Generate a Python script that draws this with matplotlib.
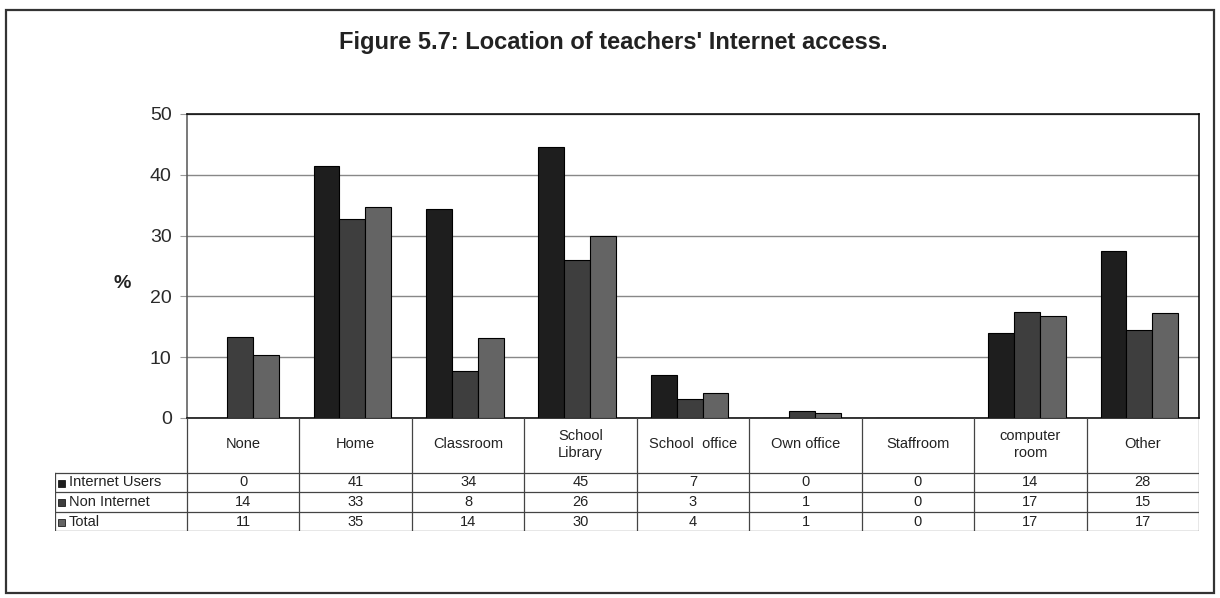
import numpy as np
import matplotlib.pyplot as plt
from matplotlib.patches import Rectangle

plt.rcParams['font.family'] = ['Liberation Sans', 'DejaVu Sans']

# data
categories = ['None', 'Home', 'Classroom', 'School\nLibrary', 'School  office',
              'Own office', 'Staffroom', 'computer\nroom', 'Other']
series = ['Internet Users', 'Non Internet', 'Total']
bar_internet = [0, 41.4, 34.4, 44.6, 7.1, 0, 0, 13.9, 27.5]
bar_non = [13.4, 32.8, 7.8, 26.0, 3.1, 1.1, 0, 17.5, 14.4]
bar_total = [10.4, 34.7, 13.2, 29.9, 4.1, 0.8, 0, 16.8, 17.3]
table_internet = [0, 41, 34, 45, 7, 0, 0, 14, 28]
table_non = [14, 33, 8, 26, 3, 1, 0, 17, 15]
table_total = [11, 35, 14, 30, 4, 1, 0, 17, 17]
yticks = [0, 10, 20, 30, 40, 50]

colors = ['#1e1e1e', '#3e3e3e', '#646464']
W, H = 1220, 598

fig = plt.figure(figsize=(W / 100, H / 100), dpi=100)

def fx(px):
    return px / W

def fy(py):
    return 1 - py / H

# outer frame
fig.patches.append(Rectangle((fx(6), fy(593)), fx(1208), 583 / H, transform=fig.transFigure,
                             fill=False, edgecolor='#333333', linewidth=1.6))

fig.text(fx(613), fy(42), "Figure 5.7: Location of teachers' Internet access.",
         ha='center', va='center', fontsize=17, fontweight='bold', color='#222222')

# main bar axes
left, right, top, bottom = 187, 1199, 114, 418
ax = fig.add_axes([fx(left), fy(bottom), fx(right - left), (bottom - top) / H])
x = np.arange(len(categories))
bw = 0.23
for i, vals in enumerate([bar_internet, bar_non, bar_total]):
    ax.bar(x + (i - 1) * bw - 0.03, vals, width=bw, color=colors[i],
           edgecolor='black', linewidth=0.8, zorder=3)
ax.set_xlim(-0.5, len(categories) - 0.5)
ax.set_ylim(0, 50)
ax.set_yticks(yticks)
ax.set_xticks([])
ax.tick_params(axis='y', labelsize=14, length=5, pad=6, colors='#999999', labelcolor='#2a2a2a')
ax.yaxis.grid(True, color='#888888', linewidth=1, zorder=0)
for s in ax.spines.values():
    s.set_color('black')
    s.set_linewidth(1.1)
ax.spines['left'].set_color('#555555')
fig.text(fx(122), fy(283), '%', ha='center', va='center', fontsize=14, fontweight='bold',
         color='#222222')

# data table under the axes
tleft = 55
rows_y = [418, 473, 492, 512, 531]
tab = fig.add_axes([fx(tleft), fy(rows_y[-1]), fx(right - tleft), (rows_y[-1] - rows_y[0]) / H])
tab.set_xlim(tleft, right)
tab.set_ylim(rows_y[-1], rows_y[0])
tab.axis('off')
colw = (right - left) / len(categories)
bounds = [left + k * colw for k in range(len(categories) + 1)]
lc = '#444444'
for b in bounds:
    tab.plot([b, b], [rows_y[0], rows_y[-1]], color=lc, linewidth=0.9)
tab.plot([tleft, tleft], [rows_y[1], rows_y[-1]], color=lc, linewidth=0.9)
for r in rows_y[1:]:
    tab.plot([tleft, right], [r, r], color=lc, linewidth=0.9)

for k, c in enumerate(categories):
    tab.text(left + (k + 0.5) * colw, (rows_y[0] + rows_y[1]) / 2 - 1, c,
             ha='center', va='center', fontsize=10.5, linespacing=1.3, color='#222222')

for j, (name, vals) in enumerate(zip(series, [table_internet, table_non, table_total])):
    yc = (rows_y[j + 1] + rows_y[j + 2]) / 2
    tab.add_patch(Rectangle((58, yc - 3), 7, 7, facecolor=colors[j], edgecolor='black',
                            linewidth=0.5))
    tab.text(69, yc, name, ha='left', va='center', fontsize=10.5, color='#222222')
    for k, v in enumerate(vals):
        tab.text(left + (k + 0.5) * colw, yc, str(v), ha='center', va='center',
                 fontsize=10.5, color='#222222')

fig.savefig('out.png', dpi=100)
